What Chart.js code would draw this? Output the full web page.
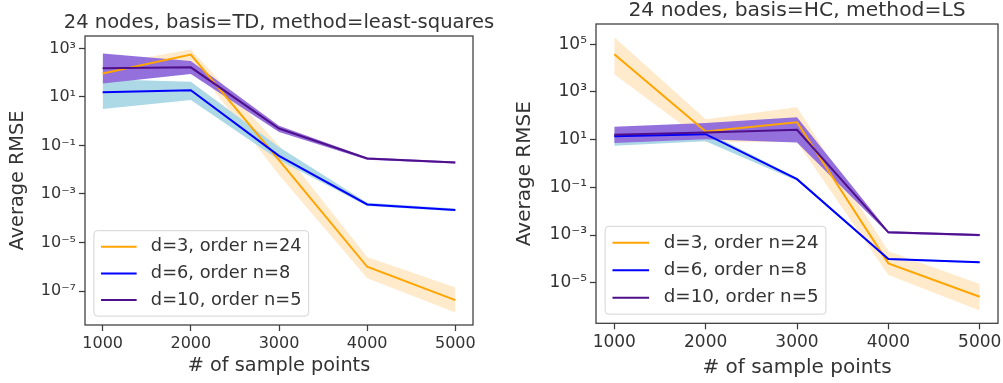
<!DOCTYPE html>
<html>
<head>
<meta charset="utf-8">
<script src="https://cdn.jsdelivr.net/npm/chart.js@4/dist/chart.umd.min.js"></script>
<style>
    html, body { margin: 0; padding: 0; background: #fff; }
    #wrap { position: relative; width: 1003px; height: 383px; }
    canvas { position: absolute; top: 0; }
    #tdChart { left: 0; }
    #hcChart { left: 500px; }
</style>
</head>
<body>
<div id="wrap">
    <canvas id="tdChart" width="500" height="383"></canvas>
    <canvas id="hcChart" width="503" height="383"></canvas>
</div>
<script>
const nSamples = [1000, 2000, 3000, 4000, 5000];
const seriesLabels = ['d=3, order n=24', 'd=6, order n=8', 'd=10, order n=5'];

// basis=TD, least-squares: mean RMSE and the shaded spread
const tdD3 = [93, 560, 0.025, 1.0e-6, 4.2e-8];
const tdD3Lo = [40, 320, 0.006, 3.4e-7, 1.3e-8];
const tdD3Hi = [200, 900, 0.1, 2.5e-6, 1.4e-7];
const tdD6 = [15.5, 19, 0.037, 3.7e-4, 2.2e-4];
const tdD6Lo = [3.2, 7.4, 0.025, 3.2e-4, 1.95e-4];
const tdD6Hi = [54, 42, 0.087, 4.3e-4, 2.5e-4];
const tdD10 = [150, 165, 0.5, 0.029, 0.02];
const tdD10Lo = [36, 87, 0.36, 0.026, 0.018];
const tdD10Hi = [620, 300, 0.65, 0.032, 0.022];

// basis=HC, LS
const hcD3 = [38000, 22, 54, 6.5e-5, 2.6e-6];
const hcD3Lo = [5600, 7.8, 8, 2.1e-5, 6.8e-7];
const hcD3Hi = [195000, 71, 230, 2.1e-4, 8.9e-6];
const hcD6 = [14, 17, 0.22, 1.0e-4, 7.2e-5];
const hcD6Lo = [5.6, 8.5, 0.19, 0.9e-4, 6.6e-5];
const hcD6Hi = [22, 22, 0.25, 1.1e-4, 7.8e-5];
const hcD10 = [16, 20, 26, 1.3e-3, 1.0e-3];
const hcD10Lo = [7.2, 10.5, 7.6, 1.15e-3, 0.9e-3];
const hcD10Hi = [35, 50, 87, 1.45e-3, 1.1e-3];

// y tick exponents (powers of ten)
const tdTickExps = [3, 1, -1, -3, -5, -7];
const hcTickExps = [5, 3, 1, -1, -3, -5];

const lineColors = ['#ffa500', '#0000ff', '#50108c'];
const bandColors = ['rgb(255,234,204)', '#add8e6', '#9370db'];
const textColor = '#333333';
const axisColor = '#3a3a3a';

Chart.defaults.font.family = "'DejaVu Sans', sans-serif";

const supDigits = { '-': '⁻', '0': '⁰', '1': '¹', '2': '²', '3': '³', '4': '⁴', '5': '⁵', '6': '⁶', '7': '⁷', '8': '⁸', '9': '⁹' };
const sup = (n) => String(n).split('').map((c) => supDigits[c]).join('');

const toPoints = (arr) => arr.map((v, i) => ({ x: nSamples[i], y: v }));

// box around the whole plot area
const framePlugin = {
    id: 'frame',
    afterDatasetsDraw(chart) {
        const { ctx, chartArea: a } = chart;
        ctx.save();
        ctx.strokeStyle = axisColor;
        ctx.lineWidth = 1.25;
        ctx.strokeRect(a.left, a.top, a.right - a.left, a.bottom - a.top);
        ctx.restore();
    },
};

// keep the title centred over the plot area instead of the canvas
const centerTitle = {
    id: 'centerTitle',
    afterLayout(chart) {
        const t = chart.titleBlock;
        const a = chart.chartArea;
        const c = (a.left + a.right) / 2;
        const half = (t.right - t.left) / 2;
        t.left = c - half;
        t.right = c + half;
    },
};

// legend in the lower left corner of the plot area, with a rounded box
const boxLegend = {
    id: 'boxLegend',
    afterDatasetsDraw(chart, args, opts) {
        const { ctx, chartArea: a } = chart;
        const f = opts.fontSize;
        const items = chart.data.datasets.filter((ds) => ds.inLegend);
        ctx.save();
        ctx.font = `${f}px 'DejaVu Sans'`;
        const textW = Math.max(...items.map((ds) => ctx.measureText(ds.label).width));
        const pad = 0.4 * f, handle = 2 * f, gap = 0.8 * f, rowGap = 0.5 * f;
        const w = pad * 2 + handle + gap + textW;
        const h = pad * 2 + items.length * f + (items.length - 1) * rowGap;
        const x = a.left + 0.5 * f;
        const y = a.bottom - 0.5 * f - h;
        ctx.beginPath();
        ctx.roundRect(x, y, w, h, 0.2 * f);
        ctx.fillStyle = 'rgba(255,255,255,0.8)';
        ctx.fill();
        ctx.strokeStyle = '#d4d4d4';
        ctx.lineWidth = 1;
        ctx.stroke();
        items.forEach((ds, i) => {
            const cy = y + pad + f / 2 + i * (f + rowGap);
            ctx.strokeStyle = ds.borderColor;
            ctx.lineWidth = ds.borderWidth;
            ctx.beginPath();
            ctx.moveTo(x + pad, cy);
            ctx.lineTo(x + pad + handle, cy);
            ctx.stroke();
            ctx.fillStyle = textColor;
            ctx.textBaseline = 'middle';
            ctx.fillText(ds.label, x + pad + handle + gap, cy);
        });
        ctx.restore();
    },
};

const buildPanel = (canvasId, p) => {
    const datasets = [];
    // spread bands first (upper edge filled down to lower edge)
    p.series.forEach((s, k) => {
        const order = p.series.length - k;
        const hiIndex = datasets.length;
        datasets.push({
            data: toPoints(s.hi), fill: hiIndex + 1, backgroundColor: bandColors[k],
            borderColor: 'rgba(0,0,0,0)', borderWidth: 0, pointRadius: 0, order,
        });
        datasets.push({
            data: toPoints(s.lo), fill: false,
            borderColor: 'rgba(0,0,0,0)', borderWidth: 0, pointRadius: 0, order,
        });
    });
    p.series.forEach((s, k) => {
        datasets.push({
            label: seriesLabels[k], data: toPoints(s.mean), fill: false,
            borderColor: lineColors[k], borderWidth: 2, pointRadius: 0,
            order: p.series.length - k, inLegend: true,
        });
    });

    const tickFont = { size: p.tickSize };
    const gridOpts = {
        drawOnChartArea: false, tickLength: 6, tickWidth: 1.25, tickColor: axisColor,
    };

    return new Chart(document.getElementById(canvasId), {
        type: 'line',
        data: { datasets },
        plugins: [framePlugin, centerTitle, boxLegend],
        options: {
            responsive: false,
            animation: false,
            events: [],
            layout: { padding: { left: 0, right: p.rightPad, top: 0, bottom: 0 } },
            scales: {
                x: {
                    type: 'linear', min: 800, max: 5200,
                    afterBuildTicks: (sc) => { sc.ticks = nSamples.map((v) => ({ value: v })); },
                    afterFit: (sc) => { sc.height = p.xHeight; sc.paddingLeft = 0; sc.paddingRight = 0; },
                    ticks: { font: tickFont, color: textColor, padding: 3, maxRotation: 0, autoSkip: false, callback: (v) => String(v) },
                    grid: gridOpts,
                    border: { display: false },
                    title: {
                        display: true, text: '# of sample points', color: textColor,
                        font: { size: p.labelSize, lineHeight: 1 }, padding: { top: 0, bottom: p.xTitlePad },
                    },
                },
                y: {
                    type: 'logarithmic', min: p.yMin, max: p.yMax,
                    afterBuildTicks: (sc) => { sc.ticks = p.yTicks.map((e) => ({ value: Math.pow(10, e) })); },
                    afterFit: (sc) => { sc.width = p.yWidth; sc.paddingTop = 0; sc.paddingBottom = 0; },
                    ticks: {
                        font: tickFont, color: textColor, padding: 3, autoSkip: false,
                        callback: (v) => '10' + sup(Math.round(Math.log10(v))),
                    },
                    grid: gridOpts,
                    border: { display: false },
                    title: {
                        display: true, text: 'Average RMSE', color: textColor,
                        font: { size: p.labelSize, lineHeight: 1 }, padding: { top: p.yTitlePad, bottom: 0 },
                    },
                },
            },
            plugins: {
                legend: { display: false },
                tooltip: { enabled: false },
                filler: { drawTime: 'beforeDatasetsDraw' },
                title: {
                    display: true, text: p.title, color: textColor,
                    font: { size: p.titleSize, weight: 'normal', lineHeight: 1 },
                    padding: { top: p.titlePadTop, bottom: p.titlePadBottom },
                },
                boxLegend: { fontSize: p.legendSize },
            },
        },
    });
};

buildPanel('tdChart', {
    title: '24 nodes, basis=TD, method=least-squares',
    series: [
        { mean: tdD3, lo: tdD3Lo, hi: tdD3Hi },
        { mean: tdD6, lo: tdD6Lo, hi: tdD6Hi },
        { mean: tdD10, lo: tdD10Lo, hi: tdD10Hi },
    ],
    yTicks: tdTickExps,
    yMin: Math.pow(10, -8.4), yMax: Math.pow(10, 3.51),
    yWidth: 85, xHeight: 58, rightPad: 27,
    titleSize: 19.5, titlePadTop: 12.75, titlePadBottom: 3.75,
    tickSize: 16, labelSize: 19.3, legendSize: 17.8,
    xTitlePad: 7, yTitlePad: 8.3,
});

buildPanel('hcChart', {
    title: '24 nodes, basis=HC, method=LS',
    series: [
        { mean: hcD3, lo: hcD3Lo, hi: hcD3Hi },
        { mean: hcD6, lo: hcD6Lo, hi: hcD6Hi },
        { mean: hcD10, lo: hcD10Lo, hi: hcD10Hi },
    ],
    yTicks: hcTickExps,
    yMin: Math.pow(10, -6.7), yMax: Math.pow(10, 5.85),
    yWidth: 96, xHeight: 59.7, rightPad: 5,
    titleSize: 20.3, titlePadTop: 1.05, titlePadBottom: 2.65,
    tickSize: 17, labelSize: 20, legendSize: 18.3,
    xTitlePad: 5.2, yTitlePad: 15,
});
</script>
</body>
</html>
